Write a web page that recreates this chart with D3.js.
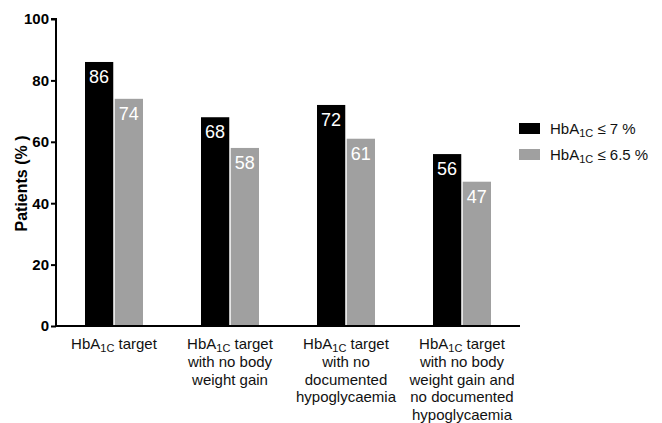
<!DOCTYPE html>
<html>
<head>
<meta charset="utf-8">
<script src="https://cdn.jsdelivr.net/npm/d3@7"></script>
<style>
body { margin: 0; background: #fff; font-family: Arial, "Liberation Sans", sans-serif; }
</style>
</head>
<body>
<div class="chart"></div>
<script>
// data
const categories = ['g1', 'g2', 'g3', 'g4'];
const categoryLines = [
    ['HbA1C target'],
    ['HbA1C target', 'with no body', 'weight gain'],
    ['HbA1C target', 'with no', 'documented', 'hypoglycaemia'],
    ['HbA1C target', 'with no body', 'weight gain and', 'no documented', 'hypoglycaemia']
];
const seriesNames = ['≤ 7 %', '≤ 6.5 %'];
const seriesColors = ['#000000', '#a0a0a0'];
const values7 = [86, 68, 72, 56];
const values65 = [74, 58, 61, 47];
const yTicks = [0, 20, 40, 60, 80, 100];

var margin = {top: 19, right: 142, bottom: 97, left: 56},
width = 662 - margin.left - margin.right,
height = 423 - margin.top - margin.bottom;

const svg = d3.select('.chart')
    .append('svg')
    .attr('width', 662)
    .attr('height', 423)
    .append('g')
    .attr('transform', 'translate('+margin.left+','+margin.top+')')

const xScale = d3.scaleBand()
    .domain(categories)
    .range([0, width])
    .paddingInner(0.5)
    .paddingOuter(0.25)

const xSub = d3.scaleBand()
    .domain([0, 1])
    .range([0, xScale.bandwidth()])
    .paddingInner(0.05)

const yScale = d3.scaleLinear()
    .domain([0, 100])
    .range([height, 0])

const series = [values7, values65];

// writes "HbA1C ..." with subscript
function hba(sel, rest, subSize) {
    sel.append('tspan').text('HbA');
    sel.append('tspan').text('1C').attr('font-size', subSize).attr('dy', 3);
    sel.append('tspan').text(rest).attr('dy', -3);
}

series.forEach((vals, si) => {
    const g = svg.append('g');
    g.selectAll('rect')
        .data(vals)
        .enter()
        .append('rect')
        .attr('x', (d, i) => xScale(categories[i]) + xSub(si))
        .attr('y', d => yScale(d))
        .attr('width', xSub.bandwidth())
        .attr('height', d => height - yScale(d))
        .attr('fill', seriesColors[si]);
    g.selectAll('text')
        .data(vals)
        .enter()
        .append('text')
        .attr('x', (d, i) => xScale(categories[i]) + xSub(si) + xSub.bandwidth() / 2)
        .attr('y', d => yScale(d) + 21)
        .attr('text-anchor', 'middle')
        .attr('fill', 'white')
        .attr('font-size', 18)
        .text(d => d);
});

// y axis
const yAxis = svg.append('g')
    .call(d3.axisLeft(yScale).tickValues(yTicks).tickSize(5).tickPadding(2))
yAxis.select('.domain').attr('stroke-width', 2).attr('d', `M0,${height + 1}V0H-5`)
yAxis.selectAll('.tick line').attr('stroke-width', 2)
yAxis.selectAll('.tick text')
    .attr('font-size', 15)
    .attr('font-weight', 'bold')
    .attr('font-family', 'Arial, "Liberation Sans", sans-serif')
    .attr('fill', '#000')

svg.append('text')
    .attr('transform', `translate(-29,${height / 2 + 11}) rotate(-90)`)
    .attr('text-anchor', 'middle')
    .attr('font-size', 16)
    .attr('font-weight', 'bold')
    .text('Patients (% )')

// x axis line
svg.append('line')
    .attr('x1', -1)
    .attr('x2', width)
    .attr('y1', height)
    .attr('y2', height)
    .attr('stroke', '#000')
    .attr('stroke-width', 2)

// category labels
categoryLines.forEach((lines, ci) => {
    const cx = xScale(categories[ci]) + xScale.bandwidth() / 2;
    lines.forEach((ln, li) => {
        const t = svg.append('text')
            .attr('x', cx)
            .attr('y', height + 23 + li * 17.8)
            .attr('text-anchor', 'middle')
            .attr('font-size', 15)
            .attr('fill', '#111');
        if (ln.startsWith('HbA1C')) hba(t, ln.slice(5), 11);
        else t.text(ln);
    });
});

// legend
const legend = svg.append('g')
    .attr('transform', `translate(${width - 1},${104})`)
seriesNames.forEach((name, i) => {
    legend.append('rect')
        .attr('x', 0)
        .attr('y', i * 26)
        .attr('width', 21)
        .attr('height', 11)
        .attr('fill', seriesColors[i]);
    const t = legend.append('text')
        .attr('x', 31)
        .attr('y', i * 26 + 11)
        .attr('font-size', 15)
        .attr('fill', '#111');
    hba(t, ' ' + name, 11);
});
</script>
</body>
</html>
